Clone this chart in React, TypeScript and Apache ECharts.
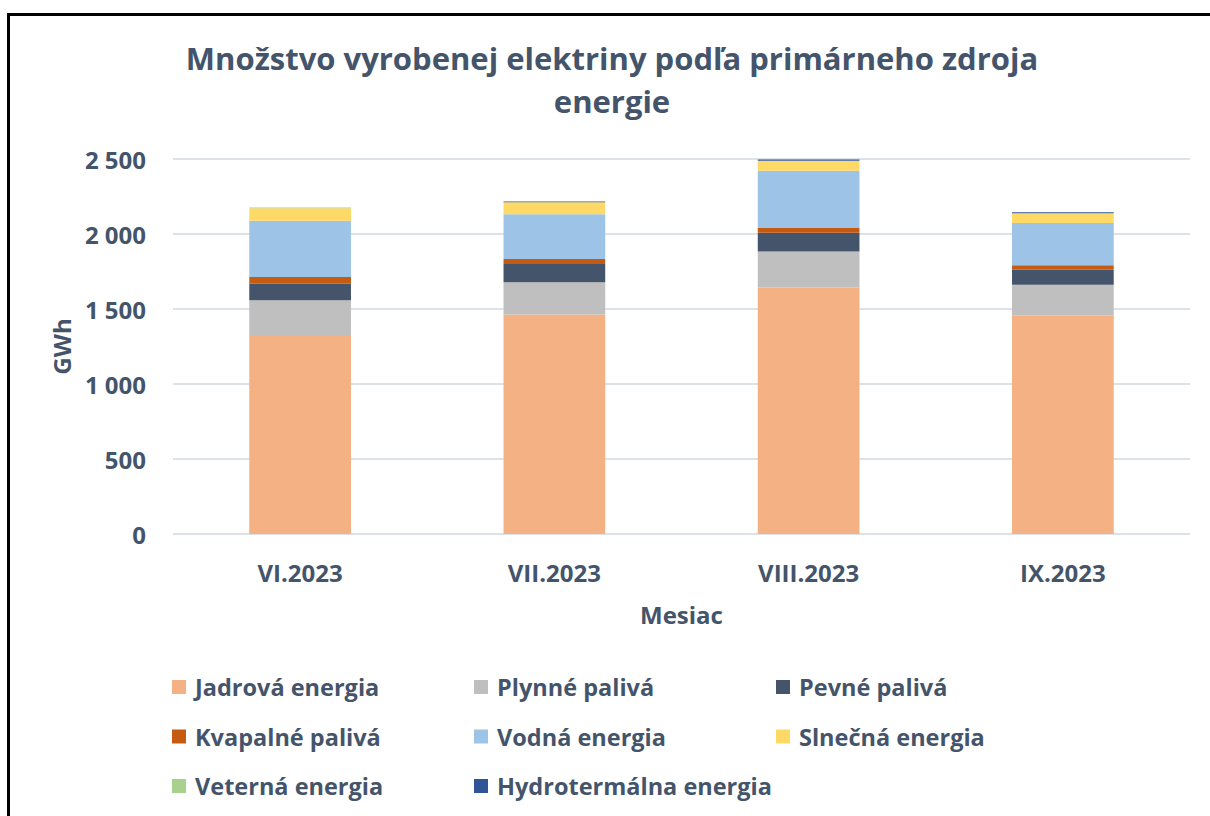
import React, { useEffect, useRef } from "react";
import * as echarts from "echarts";

const categories = ["VI.2023", "VII.2023", "VIII.2023", "IX.2023"];
const seriesNames = [
  "Jadrová energia",
  "Plynné palivá",
  "Pevné palivá",
  "Kvapalné palivá",
  "Vodná energia",
  "Slnečná energia",
  "Veterná energia",
  "Hydrotermálna energia",
];
const jadrova = [1320, 1464, 1644, 1456];
const plynne = [238, 214, 240, 206];
const pevne = [111, 122, 125, 102];
const kvapalne = [44, 33, 31, 27];
const vodna = [376, 298, 382, 282];
const slnecna = [82, 80, 67, 65];
const veterna = [6, 0, 0, 0];
const hydrotermalna = [0, 6, 7, 7];
const colors = ["#F4B183", "#BFBFBF", "#44546A", "#C55A11", "#9DC3E6", "#FFD966", "#A9D18E", "#2F5597"];
const yTicks = [0, 500, 1000, 1500, 2000, 2500];

const TXT = "#44546A";
const FONT = "Open Sans";

export default function App() {
  const ref = useRef<HTMLDivElement>(null);
  useEffect(() => {
    if (!ref.current) return;
    const chart = echarts.init(ref.current, undefined, { renderer: "svg" });
    const values = [jadrova, plynne, pevne, kvapalne, vodna, slnecna, veterna, hydrotermalna];
    const legendText = { color: TXT, fontFamily: FONT, fontWeight: "bold" as const, fontSize: 23.5, lineHeight: 24, padding: [0, 0, 0, 4] };
    const mkLegend = (left: number, data: string[]) => ({
      left,
      top: 675,
      padding: 0,
      orient: "vertical" as const,
      itemWidth: 14,
      itemHeight: 14,
      itemGap: 25.5,
      icon: "rect",
      textStyle: legendText,
      data,
      selectedMode: false,
    });
    const axisFont = { color: TXT, fontFamily: FONT, fontWeight: "bold" as const, fontSize: 24 };
    chart.setOption({
      animation: false,
      color: colors,
      title: {
        text: "Množstvo vyrobenej elektriny podľa primárneho zdroja\nenergie",
        left: 612,
        top: 36,
        padding: 0,
        textAlign: "center",
        textStyle: { color: TXT, fontFamily: FONT, fontWeight: "bold", fontSize: 31, lineHeight: 43 },
      },
      legend: [
        mkLegend(172, [seriesNames[0], seriesNames[3], seriesNames[6]]),
        mkLegend(474, [seriesNames[1], seriesNames[4], seriesNames[7]]),
        mkLegend(776, [seriesNames[2], seriesNames[5]]),
      ],
      grid: { left: 173, right: 20, top: 159, bottom: 282, containLabel: false },
      xAxis: {
        type: "category",
        data: categories,
        axisLine: { show: false },
        axisTick: { show: false },
        axisLabel: { ...axisFont, margin: 26 },
        name: "Mesiac",
        nameLocation: "middle",
        nameGap: 68,
        nameTextStyle: axisFont,
      },
      yAxis: {
        type: "value",
        min: yTicks[0],
        max: yTicks[yTicks.length - 1],
        interval: 500,
        axisLine: { show: false },
        axisTick: { show: false },
        splitLine: { lineStyle: { color: "#DDE2EA", width: 2 } },
        axisLabel: {
          ...axisFont,
          margin: 27,
          formatter: (v: number) => String(v).replace(/\B(?=(\d{3})+(?!\d))/g, " "),
        },
        name: "GWh",
        nameLocation: "middle",
        nameGap: 100,
        nameTextStyle: axisFont,
      },
      graphic: [
        { type: "line", shape: { x1: 8.5, y1: 14, x2: 8.5, y2: 816 }, style: { stroke: "#000", lineWidth: 3 } },
        { type: "line", shape: { x1: 7, y1: 14.5, x2: 1210, y2: 14.5 }, style: { stroke: "#000", lineWidth: 3 } },
      ],
      series: seriesNames.map((name, i) => ({
        name,
        type: "bar",
        stack: "total",
        barWidth: "40%",
        data: values[i],
      })),
    });
    return () => chart.dispose();
  }, []);
  return <div ref={ref} style={{ position: "absolute", left: 0, top: 0, width: 1210, height: 816 }} />;
}
